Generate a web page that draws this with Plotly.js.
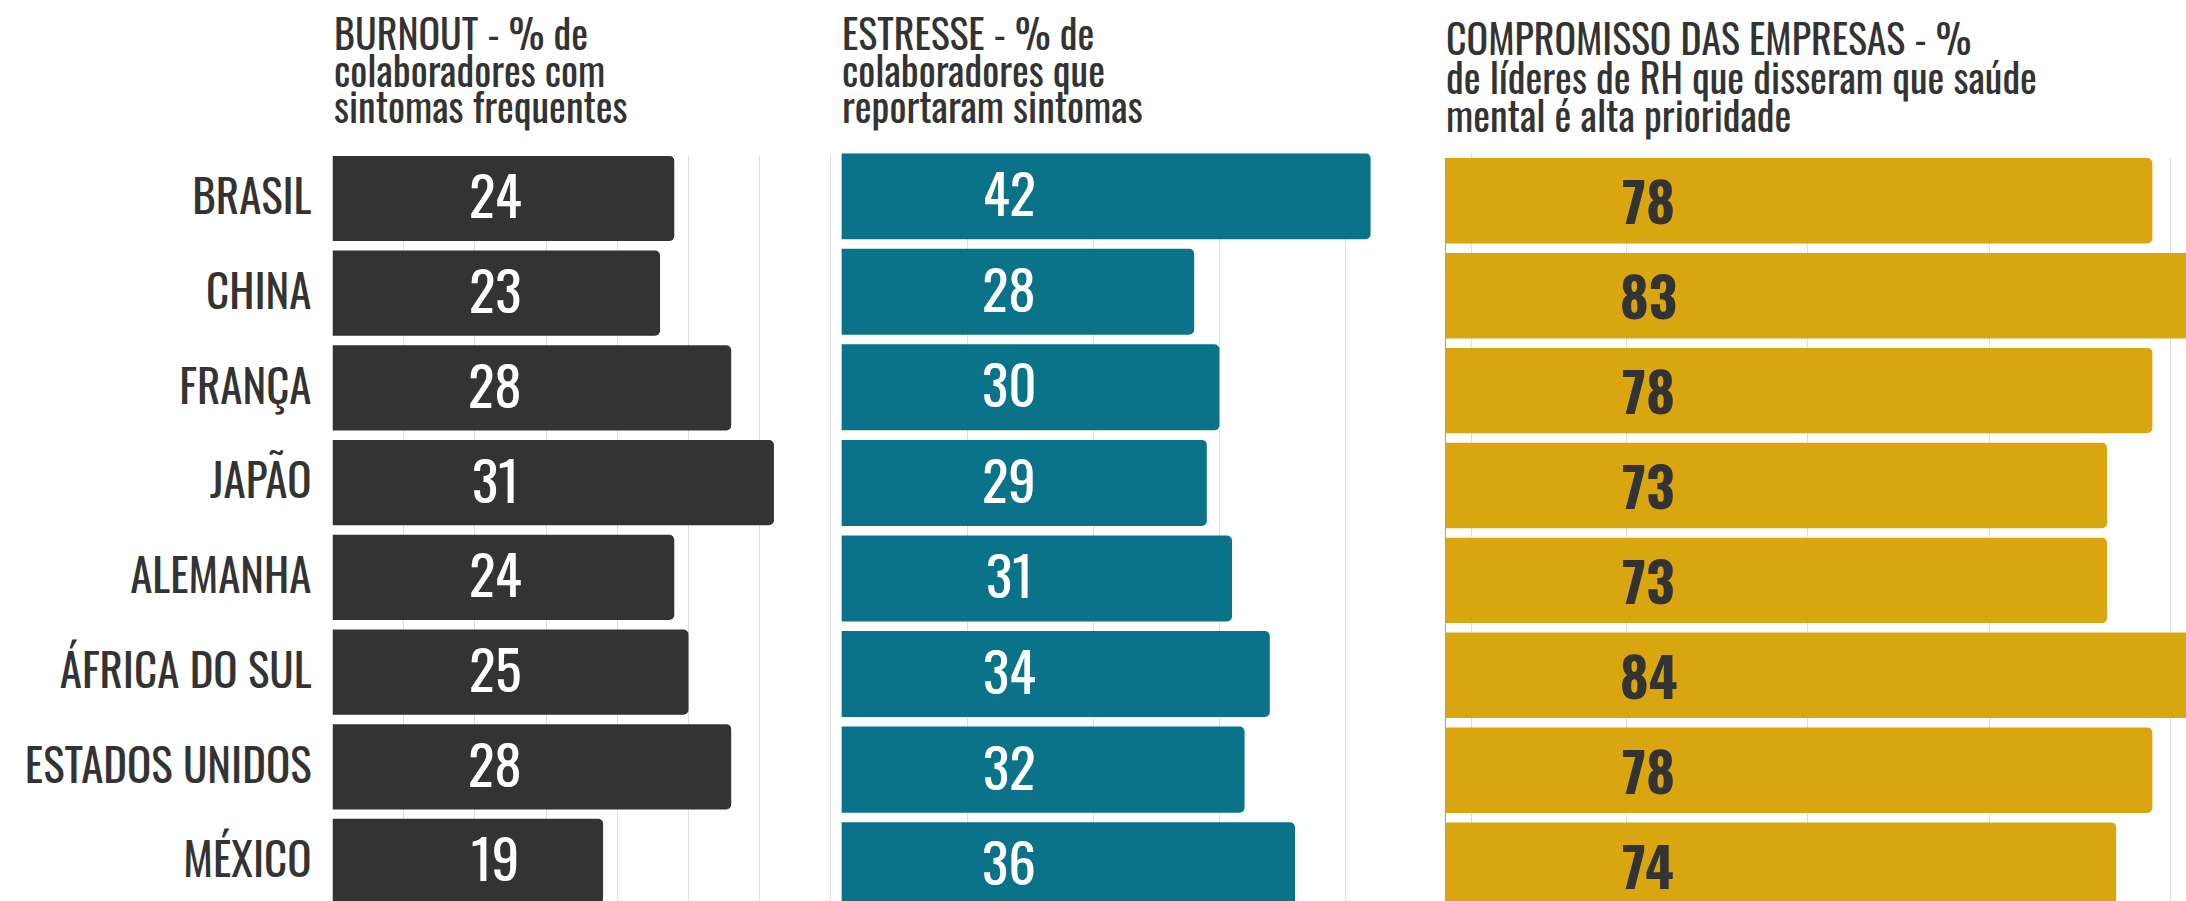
<!DOCTYPE html>
<html><head><meta charset="utf-8">
<script src="https://cdn.plot.ly/plotly-3.0.1.min.js"></script>
<style>html,body{margin:0;padding:0;background:#fff;}#chart{width:2186px;height:901px;}</style>
</head><body><div id="chart"></div>
<script>
const countries = ["BRASIL","CHINA","FRANÇA","JAPÃO","ALEMANHA","ÁFRICA DO SUL","ESTADOS UNIDOS","MÉXICO"];
const burnout = [24,23,28,31,24,25,28,19];
const estresse = [42,28,30,29,31,34,32,36];
const compromisso = [78,83,78,73,73,84,78,74];
const titleBurnout = ["BURNOUT - % de","colaboradores com","sintomas frequentes"];
const titleEstresse = ["ESTRESSE - % de","colaboradores que","reportaram sintomas"];
const titleCompromisso = ["COMPROMISSO DAS EMPRESAS - %","de líderes de RH que disseram que saúde","mental é alta prioridade"];

const FONT = 'Oswald, "Roboto Condensed", sans-serif';
const W=2186,H=901;
const px = v => v/W, py = v => 1 - v/H;

const panels = [
  {x:burnout, color:'#333333', x0:332.5, ppu:14.24, top:155.9, c0:198.5, pitch:94.71, dtick:5, valX:495, valColor:'#ffffff', bold:false, right:833.7, yshift:5, zero:false},
  {x:estresse, color:'#0A7389', x0:841.4, ppu:12.6, top:153.2, c0:196.2, pitch:95.57, dtick:10, valX:1009, valColor:'#ffffff', bold:false, right:1473.9, yshift:5, zero:false},
  {x:compromisso, color:'#DAA60F', x0:1445.3, ppu:9.065, top:158.1, c0:200.8, pitch:94.9, dtick:20, valX:1648, valColor:'#333333', bold:true, right:2186, yshift:1.5, zero:true},
];
const traces=[];
const layout={width:W,height:H,margin:{l:0,r:0,t:0,b:0},paper_bgcolor:'#fff',plot_bgcolor:'rgba(0,0,0,0)',showlegend:false,bargap:0.1,annotations:[]};
panels.forEach((p,i)=>{
  const xa = i===0?'x':'x'+(i+1), ya = i===0?'y':'y'+(i+1);
  const xk = i===0?'xaxis':'xaxis'+(i+1), yk = i===0?'yaxis':'yaxis'+(i+1);
  traces.push({type:'bar',orientation:'h',x:p.x,y:countries,xaxis:xa,yaxis:ya,marker:{color:p.color,cornerradius:5,line:{width:0}},hoverinfo:'skip'});
  layout[xk]={domain:[px(p.x0),Math.min(1,px(p.right))],range:[0,(p.right-p.x0)/p.ppu],showgrid:true,gridcolor:'#dedede',gridwidth:1,dtick:p.dtick,tick0:0,showticklabels:false,
    zeroline:p.zero,zerolinecolor:'#a0a0a0',zerolinewidth:1.5,showline:false,ticks:'',fixedrange:true,anchor:ya};
  layout[yk]={domain:[0,py(p.top)],type:'category',categoryarray:countries,range:[(H-p.c0)/p.pitch,(p.top-p.c0)/p.pitch],showgrid:false,zeroline:false,showline:false,ticks:'',showticklabels:i===0,anchor:xa,fixedrange:true,
    tickfont:{family:FONT,size:45,color:'#333333'},ticklabelstandoff:20};
  p.x.forEach((v,j)=>{
    layout.annotations.push({xref:xa,yref:ya,x:(p.valX-p.x0)/p.ppu,y:countries[j],text:String(v),showarrow:false,xanchor:'center',yanchor:'middle',yshift:p.yshift,
      font:{family:FONT,size:55,color:p.valColor,weight:p.bold?700:400}});
  });
});
const titles=[[titleBurnout,332.5,[51.7,88.3,125]],[titleEstresse,841.4,[51.7,88.3,125]],[titleCompromisso,1445.3,[56.7,95,133.3]]];
titles.forEach(([lines,x,bases])=>{
  lines.forEach((t,k)=>{
    layout.annotations.push({xref:'paper',yref:'paper',x:px(x),y:py(bases[k]+11.5),xanchor:'left',yanchor:'bottom',text:t,showarrow:false,align:'left',
      font:{family:FONT,size:40,color:'#333333'},borderpad:0});
  });
});
Plotly.newPlot('chart',traces,layout,{displayModeBar:false,staticPlot:true});
</script></body></html>
